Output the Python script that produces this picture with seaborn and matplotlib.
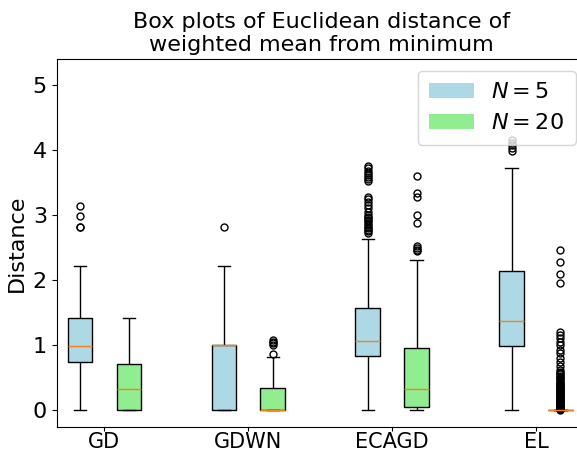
import matplotlib
matplotlib.use("Agg")
import matplotlib.pyplot as plt
from matplotlib.patches import Patch
import pandas as pd
import seaborn as sns

# Methods on the x axis and the two population sizes
methods = ["GD", "GDWN", "ECAGD", "EL"]
sizes = ["$N = 5$", "$N = 20$"]
size_colors = ["lightblue", "lightgreen"]

# Five-number summaries per method: (low whisker, Q1, median, Q3, high whisker)
summary_n5 = [
    (0.00, 0.74, 0.99, 1.41, 2.22),
    (0.00, 0.00, 1.00, 1.00, 2.22),
    (0.00, 0.83, 1.06, 1.57, 2.63),
    (0.00, 0.98, 1.37, 2.14, 3.72),
]
summary_n20 = [
    (0.00, 0.00, 0.33, 0.71, 1.41),
    (0.00, 0.00, 0.00, 0.335, 0.82),
    (0.00, 0.05, 0.33, 0.96, 2.30),
    (0.00, 0.00, 0.00, 0.00, 0.00),
]

# Outlying observations per method
fliers_n5 = [
    [2.81, 2.82, 2.98, 3.14],
    [2.81],
    [2.72, 2.75, 2.77, 2.80, 2.82, 2.85, 2.87, 2.90, 2.92, 2.95, 2.97,
     3.00, 3.05, 3.10, 3.15, 3.20, 3.25, 3.28,
     3.52, 3.55, 3.58, 3.62, 3.65, 3.68, 3.72, 3.75],
    [3.98, 4.03, 4.07, 4.10, 4.15],
]
fliers_n20 = [
    [],
    [0.86, 1.00, 1.03, 1.05, 1.07],
    [2.44, 2.46, 2.49, 2.52, 2.88, 3.00, 3.28, 3.34, 3.60],
    [0.005, 0.01, 0.015, 0.02, 0.03, 0.04, 0.05, 0.06, 0.07, 0.08, 0.09,
     0.10, 0.11, 0.12, 0.13, 0.14, 0.15, 0.16, 0.18, 0.19, 0.20, 0.21,
     0.23, 0.24, 0.25, 0.27, 0.28, 0.29, 0.31, 0.32, 0.33, 0.35, 0.36,
     0.37, 0.39, 0.40, 0.41, 0.43, 0.45, 0.47, 0.49, 0.51, 0.53, 0.55,
     0.57, 0.59, 0.62, 0.68, 0.74, 0.80, 0.87, 0.93, 1.00, 1.05, 1.10,
     1.15, 1.20, 1.95, 2.09, 2.27, 2.46],
]


def expand(stats, fliers):
    """Sample whose quartiles and whiskers equal the given summary."""
    lo, q1, med, q3, hi = stats
    low_tail = [lo] + [f for f in fliers if f < q1]
    high_tail = [hi] + [f for f in fliers if f > q3]
    k = max(len(low_tail), len(high_tail))
    values = (low_tail + [q1] * (k - len(low_tail)) + [q1]
              + [med] * (2 * k - 1)
              + [q3] + [q3] * (k - len(high_tail)) + high_tail)
    return values


rows = []
for m, s5, f5, s20, f20 in zip(methods, summary_n5, fliers_n5, summary_n20, fliers_n20):
    for v in expand(s5, f5):
        rows.append((m, sizes[0], v))
    for v in expand(s20, f20):
        rows.append((m, sizes[1], v))
df = pd.DataFrame(rows, columns=["method", "size", "distance"])

fig = plt.figure(figsize=(5.77, 4.5), dpi=100)
ax = fig.add_axes([0.0983, 0.0518, 0.9187, 0.816])

sns.boxplot(
    data=df, x="method", y="distance", hue="size",
    order=methods, hue_order=sizes,
    palette=dict(zip(sizes, size_colors)),
    width=0.68, gap=0.5, saturation=1,
    linecolor="black", linewidth=1, fliersize=5,
    medianprops={"color": "#ff7f0e", "linewidth": 1},
    legend=False, ax=ax,
)

ax.set_xlim(-0.331, 3.353)
ax.set_ylim(-0.257, 5.39)
ax.set_yticks([0, 1, 2, 3, 4, 5])
ax.set_xlabel("")
ax.set_ylabel("Distance", fontsize=16)
ax.tick_params(axis="y", labelsize=16)
ax.tick_params(axis="x", labelsize=15, length=3, pad=1)
ax.set_title("Box plots of Euclidean distance of\nweighted mean from minimum",
             fontsize=16)
for side in ["top", "right", "left", "bottom"]:
    ax.spines[side].set_visible(True)
    ax.spines[side].set_color("black")
    ax.spines[side].set_linewidth(0.8)

handles = [Patch(facecolor=c, label=l) for c, l in zip(size_colors, sizes)]
ax.legend(handles=handles, loc="upper right", fontsize=16, borderpad=0.52)

fig.savefig("out.png", dpi=100)
